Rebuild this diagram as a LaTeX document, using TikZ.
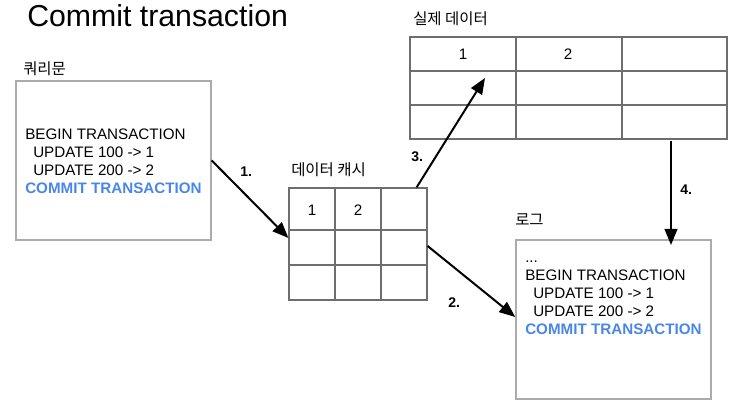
\documentclass[tikz,border=0pt]{standalone}
\usepackage{fontspec}
\setmainfont{Liberation Sans}
\newfontfamily\krfont{Noto Sans CJK KR}
\usetikzlibrary{arrows.meta,calc}
\definecolor{cblue}{HTML}{4A86E8}
\definecolor{boxgray}{HTML}{ABABAB}
\definecolor{gridgray}{HTML}{6E6E6E}
\begin{document}
\begin{tikzpicture}[x=0.75pt,y=-0.75pt,
  txt/.style={inner sep=0pt,anchor=base west,font=\fontsize{11.4}{13.5}\selectfont},
  bluetxt/.style={txt,text=cblue,font=\fontsize{11.4}{13.5}\selectfont\bfseries},
  krlabel/.style={inner sep=0pt,anchor=base west,font=\krfont\fontsize{11.6}{13}\selectfont},
  steplabel/.style={inner sep=0pt,anchor=base west,font=\fontsize{10.5}{12}\selectfont\bfseries},
  textbox/.style={draw=boxgray,line width=1.1pt,minimum width=146.25pt,minimum height=119.25pt,inner sep=0pt},
  gridbox/.style={draw=gridgray,line width=0.9pt,inner sep=0pt},
  gridline/.style={draw=gridgray,line width=0.9pt},
  cellnum/.style={inner sep=0pt,font=\fontsize{11.4}{13.5}\selectfont},
  flow/.style={line width=1.5pt,-{Triangle[length=12pt,width=9.5pt]}}
]
\useasboundingbox (0,0) rectangle (744,413);

% title
\node[inner sep=0pt,anchor=base west,font=\fontsize{22.7}{26}\selectfont] (title) at (27,27) {Commit transaction};

% query box
\node[krlabel] (querylabel) at (23,75) {쿼리문};
\node[textbox] (query) at (113.5,160.5) {};
\node[txt] (q1) at (25,140) {BEGIN TRANSACTION};
\node[txt] (q2) at (33,158) {UPDATE 100 -> 1};
\node[txt] (q3) at (33,176) {UPDATE 200 -> 2};
\node[bluetxt] (q4) at (25,194) {COMMIT TRANSACTION};

% data cache grid
\node[krlabel] (cachelabel) at (291,176) {데이터 캐시};
\node[gridbox,minimum width=103.5pt,minimum height=84pt] (cache) at (358,244) {};
\draw[gridline] (335,188) -- (335,300);
\draw[gridline] (381,188) -- (381,300);
\draw[gridline] (289,230) -- (427,230);
\draw[gridline] (289,265) -- (427,265);
\node[cellnum] (c1) at (312,210) {1};
\node[cellnum] (c2) at (358,210) {2};

% real data grid
\node[krlabel] (reallabel) at (413,25) {실제 데이터};
\node[gridbox,minimum width=237.75pt,minimum height=76.5pt] (real) at (568.5,88) {};
\draw[gridline] (516,37) -- (516,139);
\draw[gridline] (622,37) -- (622,139);
\draw[gridline] (410,71) -- (727,71);
\draw[gridline] (410,105) -- (727,105);
\node[cellnum] (r1) at (463,54) {1};
\node[cellnum] (r2) at (568,54) {2};

% log box
\node[krlabel] (loglabel) at (515,226) {로그};
\node[textbox] (log) at (613.5,319.5) {};
\node[txt] (l0) at (525,263) {...};
\node[txt] (l1) at (525,281) {BEGIN TRANSACTION};
\node[txt] (l2) at (533,299) {UPDATE 100 -> 1};
\node[txt] (l3) at (533,317) {UPDATE 200 -> 2};
\node[bluetxt] (l4) at (525,335) {COMMIT TRANSACTION};

% connector end points
\coordinate (a1e) at ($(cache.west)+(0,-6)$);
\coordinate (a2s) at ($(cache.east)+(0,2)$);
\coordinate (a2e) at ($(log.west)+(0,-2.5)$);
\coordinate (a3s) at ($(cache.north east)+(-11,0)$);
\coordinate (a3e) at (485,78);
\coordinate (a4s) at (671,141);
\coordinate (a4e) at (671,245);

\draw[flow] (query.east) -- (a1e);
\draw[flow] (a2s) -- (a2e);
\draw[flow] (a3s) -- (a3e);
\draw[flow] (a4s) -- (a4e);

\node[steplabel] (s1) at (240,177) {1.};
\node[steplabel] (s2) at (448,308) {2.};
\node[steplabel] (s3) at (411,162) {3.};
\node[steplabel] (s4) at (680,195) {4.};
\end{tikzpicture}
\end{document}
